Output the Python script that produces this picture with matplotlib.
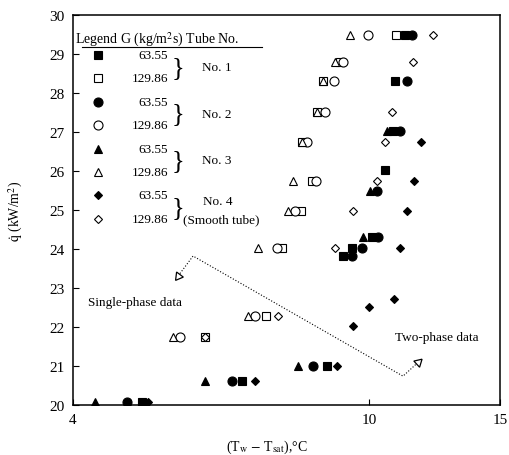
import numpy as np
import matplotlib
matplotlib.use('Agg')
import matplotlib.pyplot as plt
from matplotlib.ticker import FixedLocator, FixedFormatter, NullLocator

plt.rcParams['font.family'] = ['Liberation Serif', 'DejaVu Serif']
plt.rcParams['mathtext.fontset'] = 'stix'

# wall superheat (Tw - Tsat, degC) and heat flux q (kW/m2) per tube and mass flux
fs_x = [4.95, 6.75, 8.78, 9.23, 9.49, 10.09, 10.51, 10.77, 10.84, 11.18]
fs_q = [20.08, 20.62, 21.00, 23.82, 24.03, 24.31, 26.03, 27.03, 28.31, 29.49]
os_x = [6.02, 7.27, 7.64, 8.10, 8.38, 8.13, 8.51, 8.67, 9.14, 10.87]
os_q = [21.74, 22.28, 24.03, 24.97, 25.74, 26.74, 27.51, 28.31, 28.79, 29.49]

fc_x = [4.73, 6.54, 8.41, 9.49, 9.79, 10.28, 10.25, 11.01, 11.25, 11.42]
fc_q = [20.08, 20.62, 21.00, 23.82, 24.03, 24.31, 25.49, 27.03, 28.31, 29.49]
oc_x = [5.57, 7.03, 7.52, 7.95, 8.49, 8.25, 8.73, 8.97, 9.23, 9.97]
oc_q = [21.74, 22.28, 24.03, 24.97, 25.74, 26.74, 27.51, 28.31, 28.79, 29.49]

ft_x = [4.28, 6.02, 8.03, 9.82, 10.03, 10.57]
ft_q = [20.08, 20.62, 21.00, 24.31, 25.49, 27.03]
ot_x = [5.45, 6.88, 7.09, 7.78, 7.90, 8.13, 8.51, 8.67, 9.00, 9.43]
ot_q = [21.74, 22.28, 24.03, 24.97, 25.74, 26.74, 27.51, 28.31, 28.79, 29.49]

fd_x = [5.05, 7.03, 9.06, 9.52, 10.00, 10.80, 11.01, 11.25, 11.49, 11.74]
fd_q = [20.08, 20.62, 21.00, 22.03, 22.51, 22.72, 24.03, 24.97, 25.74, 26.74]
od_x = [6.02, 7.54, 9.00, 9.52, 10.25, 10.51, 10.74, 11.46, 12.19]
od_q = [21.74, 22.28, 24.03, 24.97, 25.74, 26.74, 27.51, 28.79, 29.49]

# single-phase / two-phase dividing line
split_x = [5.54, 5.80, 11.11, 11.65]
split_q = [23.31, 23.82, 20.74, 21.10]

mass_flux = ['63.55', '129.86']
tube_names = ['No. 1', 'No. 2', 'No. 3', 'No. 4']
x_ticks = [4, 10, 15]

fig = plt.figure(figsize=(5.09, 4.56), dpi=100)
ax = fig.add_axes([73 / 509, 1 - 406 / 456, 427 / 509, 390 / 456])
tr = ax.transAxes


def ax_x(px):
    return (px - 73) / 427


def ax_y(py):
    return (406 - py) / 390


series = [
    (fs_x, fs_q, 's', 'black', 5.5),
    (os_x, os_q, 's', 'white', 5.5),
    (fc_x, fc_q, 'o', 'black', 6.5),
    (oc_x, oc_q, 'o', 'white', 6.5),
    (ft_x, ft_q, '^', 'black', 6),
    (ot_x, ot_q, '^', 'white', 6),
    (fd_x, fd_q, 'D', 'black', 4.5),
    (od_x, od_q, 'D', 'white', 4.5),
]
for x, q, m, fc, ms in series:
    ax.plot(x, q, ls='none', marker=m, ms=ms, mfc=fc, mec='black', mew=0.8, zorder=3)

# dotted divider with open arrowheads at both ends
ax.plot(split_x, split_q, ls=':', color='black', lw=0.8, zorder=2)
ax.plot(split_x[0], split_q[0], ls='none', marker=(3, 0, 143), ms=7,
        mfc='white', mec='black', mew=0.9, zorder=4)
ax.plot(split_x[-1], split_q[-1], ls='none', marker=(3, 0, -47), ms=7,
        mfc='white', mec='black', mew=0.9, zorder=4)

ax.text(ax_x(88), ax_y(303), 'Single-phase data', transform=tr,
        fontsize=9.5, va='center')
ax.text(ax_x(395), ax_y(338), 'Two-phase data', transform=tr,
        fontsize=9.5, va='center')

ax.set_xscale('log')
ax.set_xlim(4, 15)
ax.set_ylim(20, 30)
ax.xaxis.set_major_locator(FixedLocator(x_ticks))
ax.xaxis.set_major_formatter(FixedFormatter([str(t) for t in x_ticks]))
ax.xaxis.set_minor_locator(NullLocator())
ax.set_yticks(np.arange(20, 31, 1))
ax.tick_params(direction='in', length=4, width=0.8, labelsize=11)
ax.tick_params(axis='y', pad=6)
ax.tick_params(axis='x', pad=6)
for s in ax.spines.values():
    s.set_linewidth(1.1)

ax.set_xlabel(r'(T$_\mathrm{w}$ $-$ T$_\mathrm{sat}$),°C', fontsize=10)
ax.set_ylabel(r'$\dot{\mathrm{q}}$ (kW/m$^2$)', fontsize=10)
ax.xaxis.set_label_coords(0.454, -0.085)
ax.yaxis.set_label_coords(-0.112, 0.5)

# hand-built legend in the upper left corner
ax.text(0.005, ax_y(40), r'Legend G (kg/m$^2$s) Tube No.', transform=tr,
        fontsize=10, va='center', ha='left')
ax.plot([0.02, 0.443], [ax_y(48), ax_y(48)], color='black', lw=0.8,
        transform=tr, clip_on=False)
row_y = [56 + 23.4 * i for i in range(8)]
for i, (_, _, m, fc, ms) in enumerate(series):
    ax.plot(0.059, ax_y(row_y[i]), transform=tr, marker=m, ms=ms, mfc=fc,
            mec='black', mew=0.8, clip_on=False)
    ax.text(0.222, ax_y(row_y[i]), mass_flux[i % 2], transform=tr, fontsize=9.5,
            ha='right', va='center')
for k, name in enumerate(tube_names):
    yc = (row_y[2 * k] + row_y[2 * k + 1]) / 2
    ax.text(0.232, ax_y(yc), '}', transform=tr, fontsize=19, ha='left',
            va='center')
    if k < 3:
        ax.text(0.302, ax_y(yc), name, transform=tr, fontsize=9.5, va='center')
    else:
        ax.text(0.305, ax_y(yc - 6), name, transform=tr, fontsize=9.5, va='center')
        ax.text(0.258, ax_y(row_y[7]), '(Smooth tube)', transform=tr,
                fontsize=9.5, va='center')

fig.savefig('out.png', dpi=100)
